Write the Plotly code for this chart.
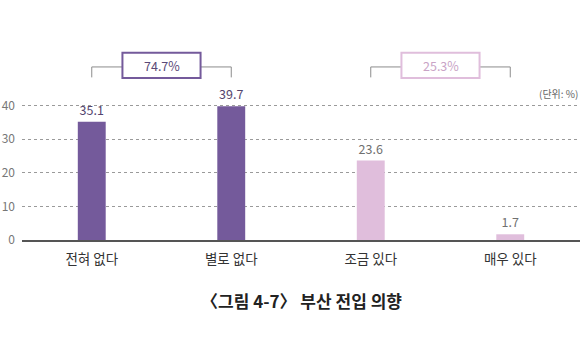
import plotly.graph_objects as go

# Survey responses: intention to move into Busan
categories = ["전혀 없다", "별로 없다", "조금 있다", "매우 있다"]
values = [35.1, 39.7, 23.6, 1.7]
group_labels = ["74.7%", "25.3%"]
y_ticks = [0, 10, 20, 30, 40]

DARK = "#745a9b"
LIGHT = "#e0bedc"
FONT = "Noto Sans CJK KR"

bar_colors = [DARK, DARK, LIGHT, LIGHT]
text_colors = ["#54456e", "#54456e", "#707070", "#707070"]

fig = go.Figure()
fig.add_trace(go.Bar(
    x=list(range(len(categories))),
    y=values,
    width=0.2,
    marker=dict(color=bar_colors, line=dict(width=0)),
    text=[f"{v:.1f}" for v in values],
    textposition="outside",
    textfont=dict(family=FONT, size=12.5, color=text_colors),
    cliponaxis=False,
    hoverinfo="skip",
))

# Bracket + boxed total for each response group
groups = [(0, 1, DARK, "#5a4a78"), (2, 3, LIGHT, "#c9a3c6")]
for (a, b, border, tcolor), label in zip(groups, group_labels):
    mid = (a + b) / 2
    line_style = dict(color="#8c8c8c", width=1)
    fig.add_shape(type="line", xref="x", yref="y", x0=a, x1=b, y0=51.4, y1=51.4, line=line_style)
    fig.add_shape(type="line", xref="x", yref="y", x0=a, x1=a, y0=51.4, y1=48.3, line=line_style)
    fig.add_shape(type="line", xref="x", yref="y", x0=b, x1=b, y0=51.4, y1=48.3, line=line_style)
    fig.add_shape(type="rect", xref="x", yref="y", x0=mid - 0.28, x1=mid + 0.28,
                  y0=48.1, y1=55.6, fillcolor="white", line=dict(color=border, width=2))
    fig.add_annotation(x=mid, y=51.85, xref="x", yref="y", text=label, showarrow=False,
                       font=dict(family=FONT, size=12.5, color=tcolor))

fig.add_annotation(x=1, y=1 - (93 - 38) / 202, xref="paper", yref="paper",
                   yanchor="middle", xanchor="right",
                   text="(단위: %)", showarrow=False,
                   font=dict(family=FONT, size=10, color="#666666"))

fig.add_annotation(x=0.5, xref="paper", xanchor="center", y=-(300 - 240) / 202, yref="paper",
                   yanchor="middle", text="<b>〈그림 4-7〉 부산 전입 의향</b>", showarrow=False,
                   font=dict(family=FONT, size=17, color="#222222"))

fig.update_layout(
    width=580, height=350,
    margin=dict(l=22, r=0, t=38, b=110),
    paper_bgcolor="white", plot_bgcolor="white",
    showlegend=False,
    xaxis=dict(
        range=[-0.5, 3.5],
        tickvals=list(range(len(categories))), ticktext=categories,
        showgrid=False, zeroline=False,
        showline=True, linecolor="#555555", linewidth=1.5,
        ticks="", ticklabelstandoff=6,
        tickfont=dict(family=FONT, size=13.5, color="#333333"),
        fixedrange=True,
    ),
    yaxis=dict(
        range=[0, 60],
        tickvals=y_ticks,
        showgrid=True, gridcolor="#9a9a9a", gridwidth=1, griddash="dot",
        zeroline=False, showline=False, ticks="",
        ticklabelstandoff=6,
        tickfont=dict(family=FONT, size=12, color="#777777"),
        fixedrange=True,
    ),
)

fig.write_html("out.html")
